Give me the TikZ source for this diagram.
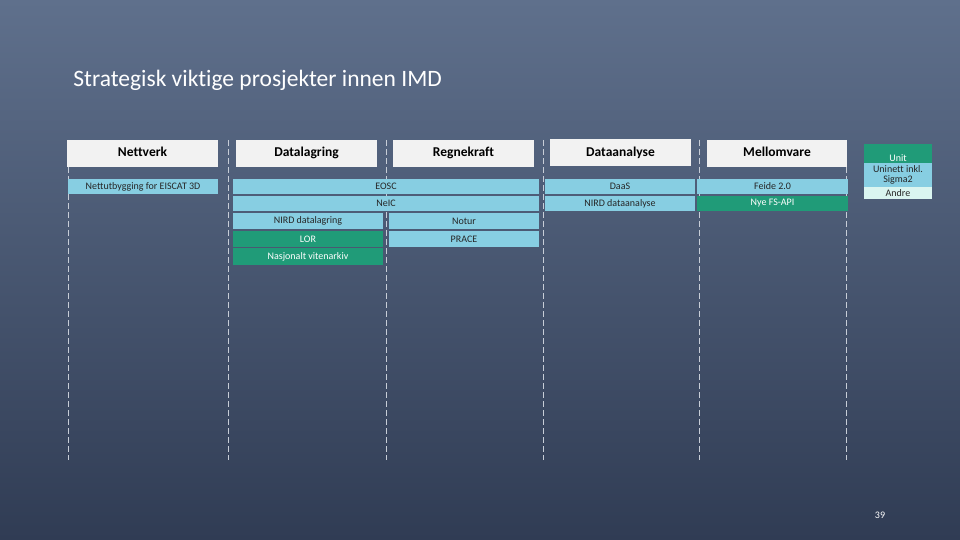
\documentclass[tikz,border=0pt]{standalone}
\usepackage{fontspec}
\setmainfont{Carlito}[Ligatures=NoCommon]

\definecolor{bgtop}{RGB}{95,112,140}
\definecolor{bgbot}{RGB}{48,60,84}
\definecolor{lyseblaa}{RGB}{135,206,226}
\definecolor{groenn}{RGB}{32,155,120}
\definecolor{blek}{RGB}{218,245,240}
\definecolor{hode}{RGB}{242,242,242}

\tikzset{every picture/.style={line width=0.75pt}}
\tikzset{
  hodeboks/.style={fill=hode, minimum height=27pt, inner sep=0pt, text height=10pt, text depth=3pt, text=black, font=\bfseries\fontsize{13.5}{15}\selectfont},
  prosj/.style={fill=lyseblaa, minimum height=15pt, inner sep=0pt, text=black!85, font=\fontsize{10}{10}\selectfont},
  grprosj/.style={prosj, fill=groenn, text=white},
  skille/.style={dash pattern=on 6pt off 3pt, draw=white!65!bgtop, line width=0.5pt}
}

\begin{document}
\begin{tikzpicture}[x=1pt,y=1pt,yscale=-1,xscale=1]
  \useasboundingbox (0,0) rectangle (960,540);
  % bakgrunn
  \shade[top color=bgtop, bottom color=bgbot] (0,0) rectangle (960,540);

  % stiplede skillelinjer
  \foreach \sx in {68,228,386,543,699,846}
    \draw[skille] (\sx,140) -- (\sx,460);

  % tittel
  \node[anchor=west, inner sep=0pt, text=white, font=\fontsize{23.5}{26}\selectfont] (tittel) at (73,80) {Strategisk viktige prosjekter innen IMD};

  % kolonneoverskrifter
  \node[hodeboks, minimum width=151pt] (nettverk) at (142.5,153.5) {Nettverk};
  \node[hodeboks, minimum width=141pt] (datalagring) at (306.5,153.5) {Datalagring};
  \node[hodeboks, minimum width=141pt] (regnekraft) at (463.5,153.5) {Regnekraft};
  \node[hodeboks, minimum width=141pt] (dataanalyse) at (620.5,153) {Dataanalyse};
  \node[hodeboks, minimum width=140pt] (mellomvare) at (777,153.5) {Mellomvare};

  % prosjekter
  \node[prosj, minimum width=150pt] (eiscat) at (143,186.5) {Nettutbygging for EISCAT 3D};
  \node[prosj, minimum width=306pt] (eosc) at (386,186.5) {EOSC};
  \node[prosj, minimum width=150pt] (daas) at (620,186.5) {DaaS};
  \node[prosj, minimum width=151pt] (feide) at (772.5,186.5) {Feide 2.0};
  \node[prosj, minimum width=306pt] (neic) at (386,203.5) {NeIC};
  \node[prosj, minimum width=150pt] (nirdda) at (620,203.5) {NIRD dataanalyse};
  \node[grprosj, minimum width=151pt] (fsapi) at (772.5,203.5) {Nye FS-API};
  \node[prosj, minimum width=150pt, minimum height=16pt] (nirddl) at (308,221) {NIRD datalagring};
  \node[prosj, minimum width=150pt, minimum height=16pt] (notur) at (464,221) {Notur};
  \node[grprosj, minimum width=150pt, minimum height=16pt] (lor) at (308,239) {LOR};
  \node[prosj, minimum width=150pt, minimum height=16pt] (prace) at (464,239) {PRACE};
  \node[grprosj, minimum width=150pt, minimum height=17pt] (arkiv) at (308,256.5) {Nasjonalt vitenarkiv};

  % tegnforklaring
  \node[grprosj, minimum width=68pt, minimum height=19pt, text height=15pt, text depth=0pt] (unit) at (898,153.5) {Unit};
  \node[prosj, minimum width=68pt, minimum height=24pt, align=center, font=\fontsize{10}{9.5}\selectfont] (uninett) at (898,175) {Uninett inkl.\\Sigma2};
  \node[prosj, fill=blek, minimum width=68pt, minimum height=12pt] (andre) at (898,193) {Andre};

  % sidetall
  \node[text=white, font=\fontsize{10}{12}\selectfont] (side) at (880,515) {39};
\end{tikzpicture}
\end{document}
